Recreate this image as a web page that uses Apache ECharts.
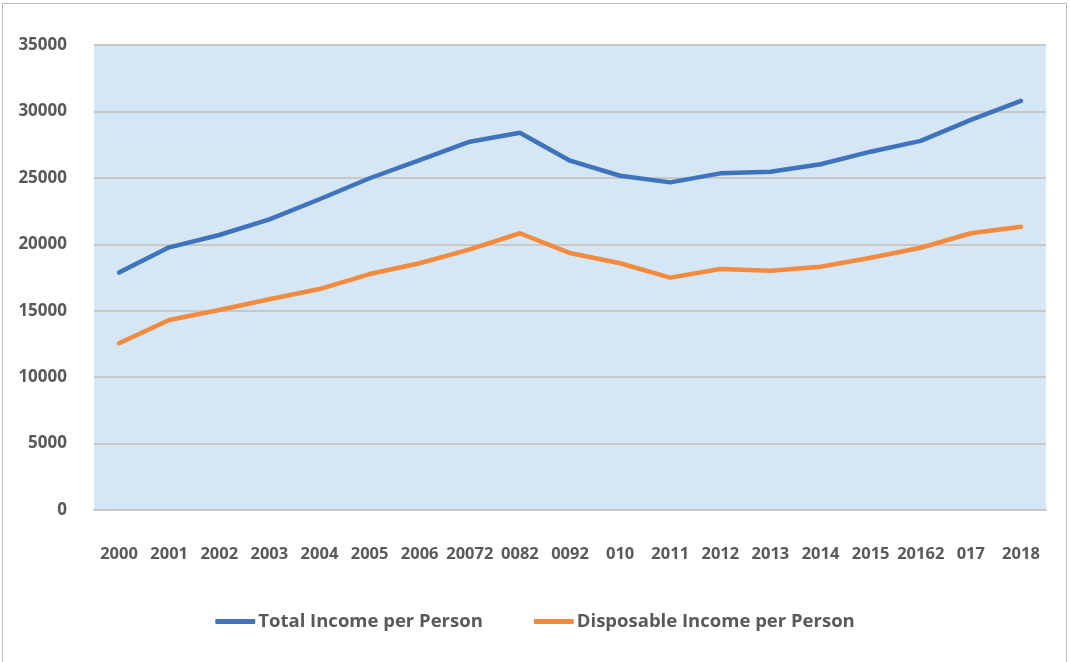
<!DOCTYPE html>
<html>
<head>
<meta charset="utf-8">
<script src="https://cdn.jsdelivr.net/npm/echarts@6/dist/echarts.min.js"></script>
<style>
  html, body { margin: 0; padding: 0; background: #ffffff; }
  #frame { position: absolute; left: 2px; top: 3px; width: 1065px; height: 700px;
           border: 1px solid #b7bfcf; box-sizing: border-box; }
  #chart { position: absolute; left: 0; top: 0; width: 1070px; height: 662px; }
</style>
</head>
<body>
<div id="frame"></div>
<div id="chart"></div>
<script>
// Category labels along the horizontal axis
const years = ['2000', '2001', '2002', '2003', '2004', '2005', '2006', '20072', '0082',
  '0092', '010', '2011', '2012', '2013', '2014', '2015', '20162', '017', '2018'];

// Income per person, by year
const totalIncome = [17870, 19770, 20700, 21880, 23390, 24970, 26340, 27720, 28400,
  26290, 25160, 24660, 25340, 25460, 26020, 26970, 27780, 29360, 30790];
const disposableIncome = [12550, 14300, 15050, 15860, 16630, 17760, 18570, 19620, 20830,
  19340, 18570, 17490, 18140, 18010, 18310, 18990, 19740, 20830, 21320];

const seriesNames = ['Total Income per Person', 'Disposable Income per Person'];

const font = '"Open Sans", "Noto Sans", sans-serif';
const textColor = '#595959';

const chart = echarts.init(document.getElementById('chart'));
chart.setOption({
  animation: false,
  color: ['#3f73bd', '#f38a3d'],
  grid: {
    left: 94, right: 24, top: 45, bottom: 152,
    show: true, backgroundColor: '#d5e7f4', borderWidth: 0
  },
  legend: {
    bottom: 26, left: 'center',
    itemWidth: 40, itemHeight: 5, itemGap: 51,
    icon: 'roundRect',
    textStyle: { fontFamily: font, fontWeight: 'bold', fontSize: 18.5, color: textColor, padding: [0, 0, 0, -2] },
    data: seriesNames
  },
  xAxis: {
    type: 'category',
    data: years,
    boundaryGap: true,
    axisLine: { show: true, lineStyle: { color: '#c8c8c8', width: 2 } },
    axisTick: { show: false },
    axisLabel: { interval: 0, margin: 36, fontFamily: font, fontWeight: 'bold', fontSize: 16.5, color: textColor }
  },
  yAxis: {
    type: 'value',
    min: 0, max: 35000, interval: 5000,
    axisLine: { show: false },
    axisTick: { show: false },
    splitLine: { lineStyle: { color: '#c8c8c8', width: 2 } },
    axisLabel: {
      margin: 27, fontFamily: font, fontWeight: 'bold', fontSize: 17, color: textColor,
      formatter: function (v) { return String(v); }
    }
  },
  series: [
    {
      name: seriesNames[0], type: 'line', data: totalIncome,
      symbol: 'none', lineStyle: { width: 4.5, cap: 'round', join: 'round' }
    },
    {
      name: seriesNames[1], type: 'line', data: disposableIncome,
      symbol: 'none', lineStyle: { width: 4.5, cap: 'round', join: 'round' }
    }
  ]
});
</script>
</body>
</html>
